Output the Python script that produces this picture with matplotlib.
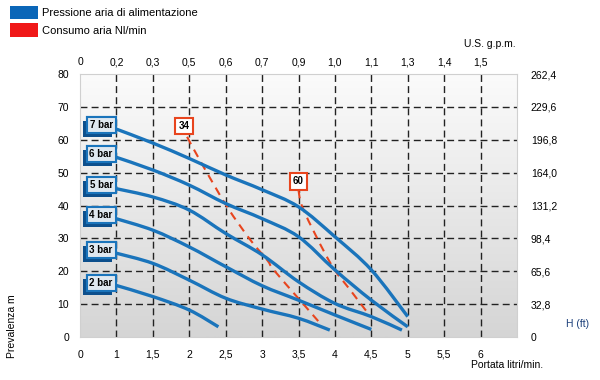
import matplotlib as mpl
import matplotlib.pyplot as plt
import matplotlib.patheffects as pe
import numpy as np
from matplotlib.patches import Rectangle, PathPatch
from matplotlib.path import Path
from matplotlib.colors import LinearSegmentedColormap

mpl.rcParams["font.family"] = ["Liberation Sans", "DejaVu Sans"]

# bottom axis (portata litri/min), first tick is a fake "0"
flow_ticks = [0.5, 1, 1.5, 2, 2.5, 3, 3.5, 4, 4.5, 5, 5.5, 6]
flow_labels = ["0", "1", "1,5", "2", "2,5", "3", "3,5", "4", "4,5", "5", "5,5", "6"]
gpm_labels = ["0", "0,2", "0,3", "0,5", "0,6", "0,7", "0,9", "1,0", "1,1", "1,3", "1,4", "1,5"]
head_ticks = [0, 10, 20, 30, 40, 50, 60, 70, 80]
ft_labels = ["0", "32,8", "65,6", "98,4", "131,2", "164,0", "196,8", "229,6", "262,4"]

# pressure curves: flow (l/min) -> head (m)
curves = {
    "7 bar": ([0.98, 1.5, 2.0, 2.5, 3.0, 3.5, 4.0, 4.5, 5.0],
              [63.4, 59.0, 54.3, 49.3, 44.8, 39.6, 30.5, 20.4, 6.2]),
    "6 bar": ([0.98, 1.5, 2.0, 2.5, 3.0, 3.5, 4.0, 4.5, 5.0],
              [54.8, 50.8, 46.2, 40.6, 36.0, 30.5, 20.4, 11.2, 3.1]),
    "5 bar": ([0.98, 1.5, 2.0, 2.5, 3.0, 3.5, 4.0, 4.5, 4.92],
              [45.2, 42.6, 38.6, 31.5, 25.0, 16.8, 10.2, 6.2, 2.1]),
    "4 bar": ([0.98, 1.5, 2.0, 2.5, 3.0, 3.5, 4.0, 4.5],
              [36.1, 32.5, 27.4, 21.4, 15.6, 11.2, 6.7, 2.3]),
    "3 bar": ([0.98, 1.5, 2.0, 2.5, 3.0, 3.5, 3.93],
              [25.6, 22.4, 17.3, 11.8, 8.5, 5.7, 2.1]),
    "2 bar": ([0.98, 1.5, 2.0, 2.4],
              [15.8, 12.3, 8.2, 3.1]),
}
label_head = {"7 bar": 64.6, "6 bar": 55.7, "5 bar": 46.3,
              "4 bar": 37.2, "3 bar": 26.5, "2 bar": 16.5}

# air consumption lines (Nl/min)
air = {
    "34": ([1.97, 2.17, 2.52, 2.84, 3.07, 3.16, 3.52, 3.78],
           [60.9, 52.8, 39.6, 29.5, 23.4, 20.4, 11.2, 4.6]),
    "60": ([3.5, 3.57, 3.94, 4.21, 4.49],
           [44.7, 38.6, 22.4, 14.3, 6.2]),
}
air_label_pos = {"34": (1.93, 64.2), "60": (3.5, 47.4)}

BLUE = "#1a74bb"
DARK = "#0d4f8c"
RED = "#e8451e"


def smooth_path(xs, ys):
	"""Catmull-Rom curve through the points, as cubic bezier path"""
	p = np.column_stack([xs, ys]).astype(float)
	verts = [p[0]]
	codes = [Path.MOVETO]
	for i in range(len(p) - 1):
		p0 = p[i - 1] if i > 0 else p[i]
		p3 = p[i + 2] if i + 2 < len(p) else p[i + 1]
		c1 = p[i] + (p[i + 1] - p0) / 6
		c2 = p[i + 1] - (p3 - p[i]) / 6
		verts += [c1, c2, p[i + 1]]
		codes += [Path.CURVE4] * 3
	return Path(verts, codes)


fig = plt.figure(figsize=(6, 3.8), dpi=100)
ax = fig.add_axes([80 / 600, 43 / 380, 437 / 600, 263 / 380])

# gradient background
grad = np.linspace(0, 1, 256).reshape(-1, 1)
cmap = LinearSegmentedColormap.from_list("bg", ["#fbfbfb", "#d5d5d5"])
ax.imshow(grad, extent=[0.5, 6.5, 0, 80], origin="upper", aspect="auto",
          cmap=cmap, zorder=0)
ax.set_xlim(0.5, 6.5)
ax.set_ylim(0, 80)

# dashed grid
for x in flow_ticks[1:]:
    ax.axvline(x, color="#222222", lw=1, ls=(0, (5, 3)), zorder=1)
for y in head_ticks[1:-1]:
    ax.axhline(y, color="#222222", lw=1, ls=(0, (5, 3)), zorder=1)

for name, (q, h) in curves.items():
    ax.add_patch(PathPatch(smooth_path(q, h), fc="none", ec=BLUE, lw=2.4,
                           capstyle="butt", zorder=3))
    # 3d looking label box
    t = ax.text(0.79, label_head[name], name, ha="center", va="center",
                fontsize=7, fontweight="bold", color="black", zorder=5,
                bbox=dict(boxstyle="square,pad=0.3", fc="#dfe8f0", ec=BLUE, lw=1.5))
    t.get_bbox_patch().set_path_effects([
        pe.withSimplePatchShadow(offset=(-2.5, -3), shadow_rgbFace=DARK, alpha=1),
        pe.Normal()])

for name, (q, h) in air.items():
    ax.add_patch(PathPatch(smooth_path(q, h), fc="none", ec=RED, lw=1.5,
                           ls=(0, (4, 3)), zorder=2))
    x, y = air_label_pos[name]
    ax.text(x, y, name, ha="center", va="center", fontsize=7,
            fontweight="bold", color="black", zorder=5,
            bbox=dict(boxstyle="square,pad=0.35", fc="white", ec=RED, lw=1.5))

# axes / ticks
for s in ax.spines.values():
    s.set_color("#d0d0d0")
ax.set_xticks(flow_ticks)
ax.set_xticklabels(flow_labels)
ax.set_yticks(head_ticks)
ax.tick_params(axis="x", length=0, pad=9, labelsize=7.5)
ax.tick_params(axis="y", length=0, pad=8, labelsize=7.5)

top = ax.secondary_xaxis("top")
top.set_xticks(flow_ticks)
top.set_xticklabels(gpm_labels)
top.tick_params(length=0, pad=5, labelsize=7.5)
top.spines["top"].set_visible(False)

right = ax.secondary_yaxis("right")
right.set_yticks(head_ticks)
right.set_yticklabels(ft_labels)
right.tick_params(length=0, pad=10, labelsize=7.5)
right.spines["right"].set_visible(False)

fig.text(516 / 600, 1 - 44 / 380, "U.S. g.p.m.", ha="right", va="center", fontsize=7.5)
fig.text(543 / 600, 1 - 365 / 380, "Portata litri/min.", ha="right", va="center", fontsize=7.5)
fig.text(566 / 600, 1 - 324 / 380, "H (ft)", ha="left", va="center", fontsize=7.5,
         color="#1b3f7a")
fig.text(12 / 600, 1 - 326 / 380, "Prevalenza m", ha="center", va="center",
         rotation=90, fontsize=7.5)

# legend squares
fig.patches.append(Rectangle((10 / 600, 1 - 19 / 380), 28 / 600, 13 / 380,
                             transform=fig.transFigure, fc="#0a66b8", ec="none"))
fig.patches.append(Rectangle((10 / 600, 1 - 37 / 380), 28 / 600, 14 / 380,
                             transform=fig.transFigure, fc="#f01818", ec="none"))
fig.text(42 / 600, 1 - 13 / 380, "Pressione aria di alimentazione", va="center", fontsize=8)
fig.text(42 / 600, 1 - 31 / 380, "Consumo aria Nl/min", va="center", fontsize=8)

plt.savefig("out.png", dpi=100)
